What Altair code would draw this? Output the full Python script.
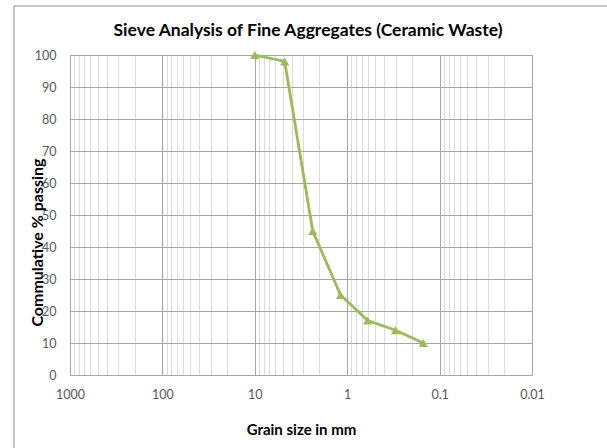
import altair as alt
import pandas as pd

# Data
grain_size_mm = [10, 4.75, 2.36, 1.18, 0.6, 0.3, 0.15]
cum_passing = [100, 98, 45, 25, 17, 14, 10]

decades = [0.01, 0.1, 1, 10, 100]
multipliers = [1, 2, 3, 4, 5, 6, 7, 8, 9]
x_grid_values = [round(d * m, 6) for d in decades for m in multipliers] + [1000]
y_tick_values = [0, 10, 20, 30, 40, 50, 60, 70, 80, 90, 100]

df = pd.DataFrame({"size": grain_size_mm, "passing": cum_passing})

FONT = "Lato"
GREEN = "#9BBB59"
major_test = "abs(log(datum.value)/LN10 - round(log(datum.value)/LN10)) < 0.001"

x_enc = alt.X(
    "size:Q",
    scale=alt.Scale(type="log", domain=[0.01, 1000], reverse=True, nice=False),
    axis=alt.Axis(
        values=x_grid_values,
        format="~g",
        labelExpr=f"{major_test} ? datum.label : ''",
        labelOverlap=False,
        labelFlush=False,
        grid=True,
        gridColor={"condition": {"test": major_test, "value": "#a6a6a6"}, "value": "#dcdcdc"},
        gridWidth=1,
        ticks=False,
        domain=False,
        labelPadding=13,
        labelFont=FONT,
        labelFontSize=12.5,
        labelColor="#595959",
        title="Grain size in mm",
        titleFont=FONT,
        titleFontSize=15,
        titleFontWeight="bold",
        titleColor="#000000",
        titlePadding=22,
    ),
)

y_enc = alt.Y(
    "passing:Q",
    scale=alt.Scale(domain=[0, 100], nice=False),
    axis=alt.Axis(
        values=y_tick_values,
        labelOverlap=False,
        grid=True,
        gridColor="#a6a6a6",
        ticks=False,
        domain=False,
        labelPadding=14,
        labelFont=FONT,
        labelFontSize=12.5,
        labelColor="#595959",
        title="Commulative % passing",
        titleFont=FONT,
        titleFontSize=16,
        titleFontWeight="bold",
        titleColor="#000000",
        titleX=-33,
        titleY=187,
        titleAlign="center",
        titleBaseline="middle",
        titleAngle=270,
    ),
)

base = alt.Chart(df).encode(x=x_enc, y=y_enc)
line = base.mark_line(color=GREEN, strokeWidth=2.8)
points = base.mark_point(
    shape="triangle-up", filled=True, color=GREEN, size=85, opacity=1
)

frame = alt.Chart(pd.DataFrame({"a": [0]})).mark_rect(
    fill=None, stroke="#8c8c8c", strokeWidth=1
).encode(
    x=alt.value(-56), x2=alt.value(560), y=alt.value(-49), y2=alt.value(420)
)

chart = (
    alt.layer(frame, line, points)
    .properties(
        width=462,
        height=320,
        padding={"left": 70, "top": 55, "right": 75, "bottom": 73},
        autosize=alt.AutoSizeParams(type="none"),
        title=alt.TitleParams(
            "Sieve Analysis of Fine Aggregates (Ceramic Waste)",
            font=FONT,
            fontSize=17.5,
            fontWeight="bold",
            color="#000000",
            anchor="middle",
            baseline="alphabetic",
            dx=7,
            offset=-48,
        ),
    )
    .configure_view(stroke="#a6a6a6", strokeWidth=1)
    .configure(background="white")
)

chart.save("out.html", embed_options={"renderer": "svg", "actions": False})
